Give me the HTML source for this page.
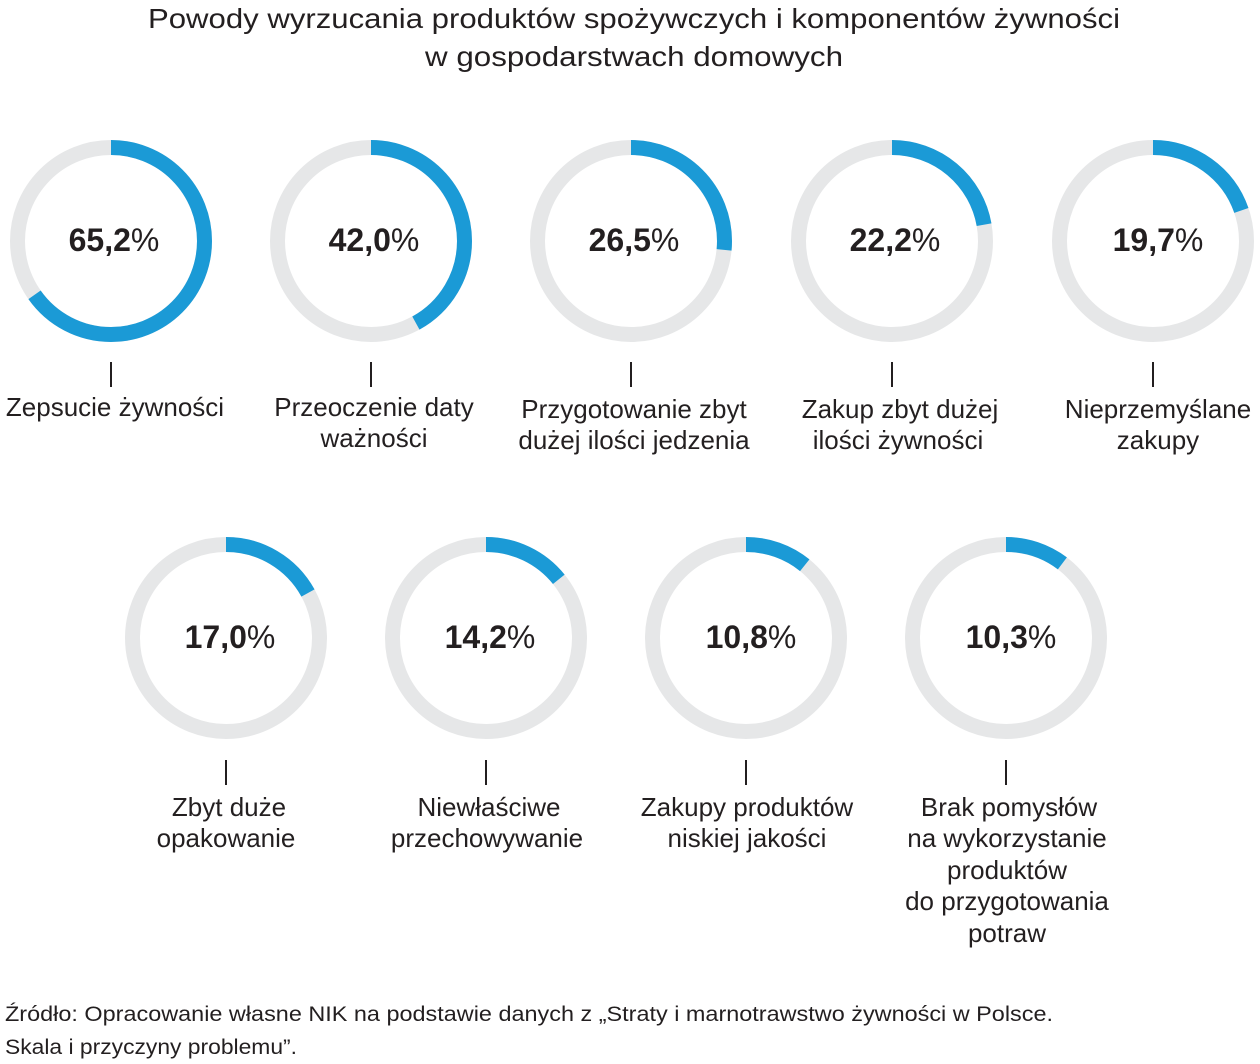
<!DOCTYPE html>
<html><head><meta charset="utf-8"><style>
html,body{margin:0;padding:0;background:#fff;}
svg{display:block;}
text{font-family:"Liberation Sans",sans-serif;fill:#231f20;}
</style></head><body>
<svg width="1260" height="1064" viewBox="0 0 1260 1064" xmlns="http://www.w3.org/2000/svg">
<g font-size="28" text-anchor="middle">
<text x="634" y="28" textLength="972" lengthAdjust="spacingAndGlyphs">Powody wyrzucania produktów spożywczych i komponentów żywności</text>
<text x="634" y="66" textLength="418" lengthAdjust="spacingAndGlyphs">w gospodarstwach domowych</text>
</g>
<g fill="none" stroke-width="15">
<g transform="translate(111,241) rotate(-90)"><circle r="93.5" stroke="#e6e7e8"/><circle r="93.5" stroke="#1b9ad6" stroke-dasharray="383.1 1000"/></g>
<g transform="translate(371,241) rotate(-90)"><circle r="93.5" stroke="#e6e7e8"/><circle r="93.5" stroke="#1b9ad6" stroke-dasharray="246.8 1000"/></g>
<g transform="translate(631,241) rotate(-90)"><circle r="93.5" stroke="#e6e7e8"/><circle r="93.5" stroke="#1b9ad6" stroke-dasharray="155.7 1000"/></g>
<g transform="translate(892,241) rotate(-90)"><circle r="93.5" stroke="#e6e7e8"/><circle r="93.5" stroke="#1b9ad6" stroke-dasharray="130.4 1000"/></g>
<g transform="translate(1153,241) rotate(-90)"><circle r="93.5" stroke="#e6e7e8"/><circle r="93.5" stroke="#1b9ad6" stroke-dasharray="115.7 1000"/></g>
<g transform="translate(226,638) rotate(-90)"><circle r="93.5" stroke="#e6e7e8"/><circle r="93.5" stroke="#1b9ad6" stroke-dasharray="99.9 1000"/></g>
<g transform="translate(486,638) rotate(-90)"><circle r="93.5" stroke="#e6e7e8"/><circle r="93.5" stroke="#1b9ad6" stroke-dasharray="83.4 1000"/></g>
<g transform="translate(746,638) rotate(-90)"><circle r="93.5" stroke="#e6e7e8"/><circle r="93.5" stroke="#1b9ad6" stroke-dasharray="63.5 1000"/></g>
<g transform="translate(1006,638) rotate(-90)"><circle r="93.5" stroke="#e6e7e8"/><circle r="93.5" stroke="#1b9ad6" stroke-dasharray="60.5 1000"/></g>
</g>
<g stroke="#231f20" stroke-width="2">
<line x1="111" y1="362" x2="111" y2="387"/><line x1="371" y1="362" x2="371" y2="387"/><line x1="631" y1="362" x2="631" y2="387"/><line x1="892" y1="362" x2="892" y2="387"/><line x1="1153" y1="362" x2="1153" y2="387"/>
<line x1="226" y1="760" x2="226" y2="785"/><line x1="486" y1="760" x2="486" y2="785"/><line x1="746" y1="760" x2="746" y2="785"/><line x1="1006" y1="760" x2="1006" y2="785"/>
</g>
<g font-size="32" font-weight="bold" text-anchor="middle">
<text x="114" y="251">65,2<tspan font-weight="normal">%</tspan></text>
<text x="374" y="251">42,0<tspan font-weight="normal">%</tspan></text>
<text x="634" y="251">26,5<tspan font-weight="normal">%</tspan></text>
<text x="895" y="251">22,2<tspan font-weight="normal">%</tspan></text>
<text x="1158" y="251">19,7<tspan font-weight="normal">%</tspan></text>
<text x="230" y="648">17,0<tspan font-weight="normal">%</tspan></text>
<text x="490" y="648">14,2<tspan font-weight="normal">%</tspan></text>
<text x="751" y="648">10,8<tspan font-weight="normal">%</tspan></text>
<text x="1011" y="648">10,3<tspan font-weight="normal">%</tspan></text>
</g>
<g font-size="26" text-anchor="middle">
<text x="115" y="416">Zepsucie żywności</text>
<text x="374" y="416">Przeoczenie daty</text><text x="374" y="447">ważności</text>
<text x="634" y="418">Przygotowanie zbyt</text><text x="634" y="449">dużej ilości jedzenia</text>
<text x="900" y="418">Zakup zbyt dużej</text><text x="898" y="449">ilości żywności</text>
<text x="1158" y="418">Nieprzemyślane</text><text x="1158" y="449">zakupy</text>
<text x="229" y="816">Zbyt duże</text><text x="226" y="847">opakowanie</text>
<text x="489" y="816">Niewłaściwe</text><text x="487" y="847">przechowywanie</text>
<text x="747" y="816">Zakupy produktów</text><text x="747" y="847">niskiej jakości</text>
<text x="1009" y="816">Brak pomysłów</text><text x="1007" y="847">na wykorzystanie</text><text x="1007" y="879">produktów</text><text x="1007" y="910">do przygotowania</text><text x="1007" y="942">potraw</text>
</g>
<g font-size="21">
<text x="5" y="1021" textLength="1048" lengthAdjust="spacingAndGlyphs">Źródło: Opracowanie własne NIK na podstawie danych z „Straty i marnotrawstwo żywności w Polsce.</text>
<text x="5" y="1054" textLength="292" lengthAdjust="spacingAndGlyphs">Skala i przyczyny problemu”.</text>
</g>
</svg>
</body></html>
